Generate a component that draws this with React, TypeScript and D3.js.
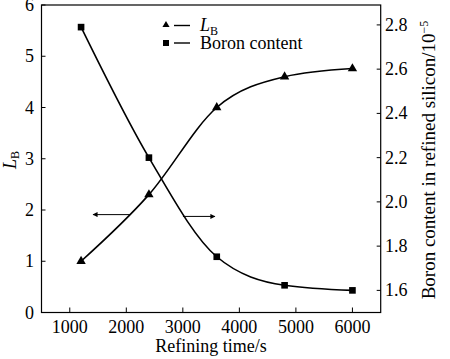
import React from "react";
import * as d3 from "d3";

const times = [1200, 2400, 3600, 4800, 6000];
const lbValues = [1.0, 2.3, 4.0, 4.6, 4.76];
const boronValues = [2.79, 2.2, 1.752, 1.623, 1.6];
const xTicks = [1000, 2000, 3000, 4000, 5000, 6000];
const yLeftTicks = [0, 1, 2, 3, 4, 5, 6];
const yRightTicks = [1.6, 1.8, 2.0, 2.2, 2.4, 2.6, 2.8];

const W = 450, H = 359;
const L = 41.5, R = 380.7, T = 5, B = 312.5;
const FONT = "Liberation Serif, Times New Roman, Times, DejaVu Serif, serif";

export default function App() {
  const x = d3.scaleLinear().domain([500, 6500]).range([L, R]);
  const yL = d3.scaleLinear().domain([0, 6]).range([B, T]);
  const yR = d3.scaleLinear().domain([1.5, 2.89]).range([B, T]);

  const lineL = d3.line<number>().x((_, i) => x(times[i])).y((d) => yL(d)).curve(d3.curveMonotoneX);
  const lineR = d3.line<number>().x((_, i) => x(times[i])).y((d) => yR(d)).curve(d3.curveMonotoneX);
  const tri = d3.symbol().type(d3.symbolTriangle).size(38)();
  const sq = d3.symbol().type(d3.symbolSquare).size(44)();

  return (
    <svg width={W} height={H} style={{ position: "absolute", left: 0, top: 0, background: "#fff", fontFamily: FONT }}>
      <defs>
        <marker id="ah" viewBox="0 0 10 10" refX="9" refY="5" markerWidth="7" markerHeight="5" orient="auto" markerUnits="userSpaceOnUse">
          <path d="M0,0 L10,5 L0,10 z" fill="#000" />
        </marker>
      </defs>
      <rect x={0} y={0} width={W} height={H} fill="#fff" />
      <rect x={L} y={T} width={R - L} height={B - T} fill="none" stroke="#000" strokeWidth={1.2} />
      {xTicks.map((t) => (
        <g key={t}>
          <line x1={x(t)} x2={x(t)} y1={B} y2={B - 5} stroke="#000" strokeWidth={1} />
          <text x={x(t)} y={333} textAnchor="middle" fontSize={18} style={{ fontFamily: FONT }}>{t}</text>
        </g>
      ))}
      {yLeftTicks.map((t) => (
        <g key={t}>
          <line x1={L} x2={L + 4} y1={yL(t)} y2={yL(t)} stroke="#000" strokeWidth={1} />
          <text x={34} y={yL(t) + 6} textAnchor="end" fontSize={18} style={{ fontFamily: FONT }}>{t}</text>
        </g>
      ))}
      {yRightTicks.map((t) => (
        <g key={t}>
          <line x1={R} x2={R - 4} y1={yR(t)} y2={yR(t)} stroke="#000" strokeWidth={1} />
          <text x={385} y={yR(t) + 6} textAnchor="start" fontSize={18} style={{ fontFamily: FONT }}>{t.toFixed(1)}</text>
        </g>
      ))}
      <text x={(L + R) / 2} y={352} textAnchor="middle" fontSize={18} style={{ fontFamily: FONT }}>Refining time/s</text>
      <text transform={`translate(16,160) rotate(-90)`} textAnchor="middle" fontSize={18} style={{ fontFamily: FONT }}>
        <tspan fontStyle="italic">L</tspan>
        <tspan fontSize={12} dy={3}>B</tspan>
      </text>
      <text transform={`translate(435,160) rotate(-90)`} textAnchor="middle" fontSize={19} style={{ fontFamily: FONT }}>
        Boron content in refined silicon/10<tspan fontSize={12} dy={-7}>−5</tspan>
      </text>

      <path d={lineL(lbValues) || ""} fill="none" stroke="#000" strokeWidth={1.6} />
      <path d={lineR(boronValues) || ""} fill="none" stroke="#000" strokeWidth={1.6} />
      {lbValues.map((v, i) => (
        <path key={"t" + i} d={tri || ""} transform={`translate(${x(times[i])},${yL(v)})`} fill="#000" />
      ))}
      {boronValues.map((v, i) => (
        <path key={"s" + i} d={sq || ""} transform={`translate(${x(times[i])},${yR(v)})`} fill="#000" />
      ))}

      <line x1={x(2065)} x2={x(1412)} y1={yL(1.91)} y2={yL(1.91)} stroke="#000" strokeWidth={1} markerEnd="url(#ah)" />
      <line x1={x(3002)} x2={x(3567)} y1={yL(1.875)} y2={yL(1.875)} stroke="#000" strokeWidth={1} markerEnd="url(#ah)" />

      <path d={d3.symbol().type(d3.symbolTriangle).size(22)() || ""} transform="translate(166,25)" fill="#000" />
      <line x1={174} x2={190} y1={25.5} y2={25.5} stroke="#000" strokeWidth={1.4} />
      <text x={200} y={31} fontSize={18} style={{ fontFamily: FONT }}>
        <tspan fontStyle="italic">L</tspan>
        <tspan fontSize={12} dy={4}>B</tspan>
      </text>
      <rect x={163} y={40} width={6} height={6} fill="#000" />
      <line x1={174} x2={190} y1={43} y2={43} stroke="#000" strokeWidth={1.4} />
      <text x={200} y={49} fontSize={18} style={{ fontFamily: FONT }}>Boron content</text>
    </svg>
  );
}
